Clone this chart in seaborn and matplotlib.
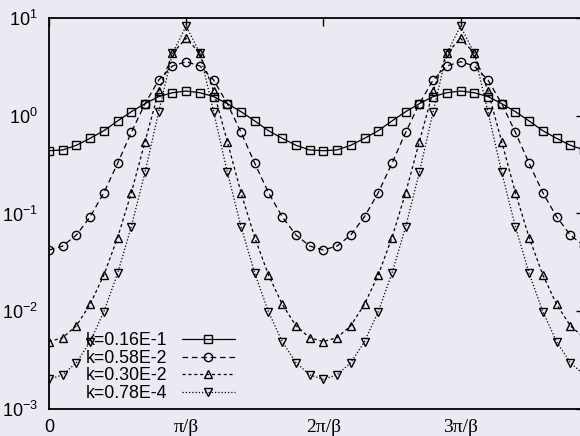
import numpy as np
import pandas as pd
import matplotlib
matplotlib.use("Agg")
import matplotlib.pyplot as plt
import seaborn as sns
from matplotlib.ticker import FixedLocator, NullFormatter, LogLocator

# ---- data (x in units of pi/beta, step 0.1) ----
x_vals = np.arange(40) * 0.1

k016 = [0.439, 0.447, 0.499, 0.588, 0.703, 0.884, 1.10, 1.33, 1.57, 1.72, 1.79,
        1.72, 1.57, 1.33, 1.10, 0.884, 0.703, 0.588, 0.499, 0.447,
        0.439, 0.447, 0.499, 0.588, 0.703, 0.884, 1.10, 1.33, 1.57, 1.72, 1.79,
        1.72, 1.57, 1.33, 1.10, 0.884, 0.703, 0.588, 0.499, 0.447]
k058 = [0.0423, 0.0465, 0.0603, 0.0927, 0.163, 0.326, 0.676, 1.33, 2.32, 3.23, 3.57,
        3.23, 2.32, 1.33, 0.676, 0.326, 0.163, 0.0927, 0.0603, 0.0465,
        0.0423, 0.0465, 0.0603, 0.0927, 0.163, 0.326, 0.676, 1.33, 2.32, 3.23, 3.57,
        3.23, 2.32, 1.33, 0.676, 0.326, 0.163, 0.0927, 0.0603, 0.0465]
k030 = [0.00489, 0.00537, 0.00711, 0.0118, 0.0235, 0.0566, 0.163, 0.543, 1.79, 4.35, 6.2,
        4.35, 1.79, 0.543, 0.163, 0.0566, 0.0235, 0.0118, 0.00711, 0.00537,
        0.00489, 0.00537, 0.00711, 0.0118, 0.0235, 0.0566, 0.163, 0.543, 1.79, 4.35, 6.2,
        4.35, 1.79, 0.543, 0.163, 0.0566, 0.0235, 0.0118, 0.00711, 0.00537]
k078 = [0.00201, 0.00224, 0.00298, 0.00489, 0.0099, 0.0244, 0.0733, 0.264, 1.10, 4.35, 8.28,
        4.35, 1.10, 0.264, 0.0733, 0.0244, 0.0099, 0.00489, 0.00298, 0.00224,
        0.00201, 0.00224, 0.00298, 0.00489, 0.0099, 0.0244, 0.0733, 0.264, 1.10, 4.35, 8.28,
        4.35, 1.10, 0.264, 0.0733, 0.0244, 0.0099, 0.00489, 0.00298, 0.00224]

labels = ["k=0.16E-1", "k=0.58E-2", "k=0.30E-2", "k=0.78E-4"]
series = [k016, k058, k030, k078]
x_tick_pos = [0, 1, 2, 3]
x_tick_labels = ["0", "π/β", "2π/β", "3π/β"]
y_major = [1e-3, 1e-2, 1e-1, 1e0, 1e1]

# ---- style ----
bg = "#EAEAF2"
sns.set_theme(style="dark")
plt.rcParams["font.family"] = ["Liberation Sans", "DejaVu Sans"]
plt.rcParams["mathtext.fontset"] = "custom"
plt.rcParams["mathtext.rm"] = "Liberation Sans"
plt.rcParams["mathtext.it"] = "Liberation Sans:italic"
plt.rcParams["mathtext.bf"] = "Liberation Sans:bold"

fig = plt.figure(figsize=(5.8, 4.36), dpi=100, facecolor=bg)
ax = fig.add_axes([49 / 580, (436 - 409) / 436, 535 / 580, 391 / 436])
ax.set_facecolor(bg)

markers = ["s", "o", "^", "v"]
styles = ["-", (0, (4.5, 3)), (0, (2.5, 2.2)), (0, (1, 1.6))]

for vals, lab, m, ls in zip(series, labels, markers, styles):
    df = pd.DataFrame({"x": x_vals, "y": vals})
    sns.lineplot(data=df, x="x", y="y", ax=ax, color="black", linewidth=0.9,
                 linestyle=ls, marker=m, markersize=6.0, markerfacecolor="none",
                 markeredgecolor="black", markeredgewidth=1.0, label=lab)

ax.set_yscale("log")
ax.set_xlim(0, 3.9)
ax.set_ylim(1e-3, 1e1)
ax.set_xlabel("")
ax.set_ylabel("")

ax.yaxis.set_major_locator(FixedLocator(y_major))
ax.yaxis.set_minor_locator(LogLocator(base=10, subs=np.arange(2, 10)))
ax.yaxis.set_minor_formatter(NullFormatter())
ax.set_xticks(x_tick_pos)
ax.set_xticklabels(x_tick_labels)
for i, t in enumerate(ax.get_xticklabels()):
    if i > 0:
        t.set_family(["Liberation Serif", "DejaVu Serif"])
        t.set_fontsize(14)
    else:
        t.set_fontsize(13)

ax.tick_params(axis="both", which="both", direction="in", colors="black",
               top=True, right=True, width=1.0)
ax.tick_params(axis="both", which="major", length=6)
ax.tick_params(axis="both", which="minor", length=3.2)
ax.tick_params(axis="y", labelsize=13, pad=8)
ax.tick_params(axis="x", pad=7)

for s in ax.spines.values():
    s.set_color("black")
    s.set_linewidth(1.3)
    s.set_visible(True)

leg = ax.legend(loc="upper left", bbox_to_anchor=(0.069, 0.196), frameon=False,
                markerfirst=False, handlelength=3.0, handletextpad=0.8,
                labelspacing=0.03, borderpad=0, borderaxespad=0, fontsize=12.8,
                numpoints=1)
for t in leg.get_texts():
    t.set_color("black")

fig.savefig("out.png", dpi=100, facecolor=bg)
